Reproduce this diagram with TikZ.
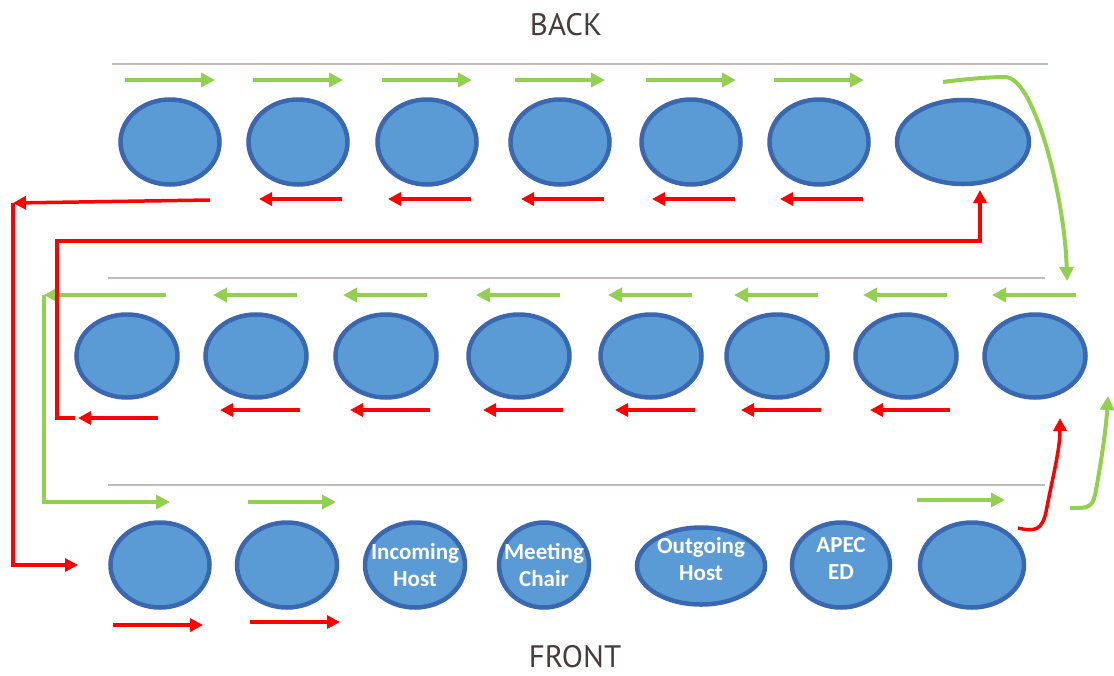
\documentclass[tikz,border=0pt]{standalone}
\usepackage{fontspec}
\setmainfont{Carlito}
\newfontfamily\sidefont{PT Sans}
\usepackage{xcolor}
\usetikzlibrary{shapes.geometric, arrows.meta, positioning}
\definecolor{seatblue}{HTML}{5B9BD5}
\definecolor{seatedge}{HTML}{3A68B0}
\definecolor{flowgreen}{HTML}{92D050}
\definecolor{flowred}{HTML}{FF0000}
\definecolor{rowgray}{HTML}{C4BABA}
\definecolor{sidetext}{HTML}{463C3C}

\begin{document}
\begin{tikzpicture}[
        x=1pt, y=-1pt,
        seat/.style={ellipse, draw=seatedge, fill=seatblue, line width=4.5pt, minimum width=99pt, minimum height=85pt, inner sep=0pt},
        seattext/.style={text=white, font=\bfseries\fontsize{23}{27}\selectfont, align=center},
        greenflow/.style={-{Triangle[length=14pt,width=14pt]}, draw=flowgreen, line width=4pt},
        redflow/.style={-{Triangle[length=13pt,width=13pt]}, draw=flowred, line width=3.5pt},
        rowline/.style={draw=rowgray, line width=1.5pt},
        sidelabel/.style={font=\sidefont\fontsize{31}{31}\selectfont, text=sidetext}
    ]
        \useasboundingbox (0,0) rectangle (1114,675);

        % Labels
        \node[sidelabel] (back) at (566,25) {BACK};
        \node[sidelabel] (front) at (575,657) {FRONT};

        % Row lines
        \draw[rowline] (112,64) -- (1048,64);
        \draw[rowline] (108,278) -- (1045,278);
        \draw[rowline] (108,485) -- (1045,485);

        % Back row
        \foreach \x [count=\i] in {170,298,427,560,691,819}
            \node[seat] (b\i) at (\x,142) {};
        \node[seat, minimum width=132pt, minimum height=84pt] (b7) at (963,142) {};

        % Middle row
        \foreach \x [count=\i] in {127,256,386,519,651,777,906,1035}
            \node[seat, minimum width=101pt, minimum height=83pt] (m\i) at (\x,356) {};

        % Front row
        \node[seat] (f1) at (160,565) {};
        \node[seat, minimum width=100pt] (f2) at (287,565) {};
        \node[seat, minimum width=100pt, label={[seattext]center:Incoming\\Host}] (f3) at (415,565) {};
        \node[seat, minimum width=90pt, label={[seattext]center:Meeting\\Chair}] (f4) at (544,565) {};
        \node[seat, minimum width=128pt, minimum height=77pt, label={[seattext, yshift=7pt]center:Outgoing\\Host}] (f5) at (701,566) {};
        \node[seat, minimum width=98pt, label={[seattext, yshift=7pt]center:APEC\\ED}] (f6) at (841,565) {};
        \node[seat, minimum width=104pt] (f7) at (972,565) {};

        % Back row flow
        \foreach \i in {1,...,6}
            \draw[greenflow] ([shift={(-45,-62)}]b\i.center) -- ++(90,0);
        \foreach \i in {2,...,6}
            \draw[redflow] ([shift={(44,57)}]b\i.center) -- ++(-83,0);
        \draw[greenflow] ([shift={(-20,-60)}]b7.center) .. controls (965,79) and (990,77) .. (1005,77)
            .. controls (1035,77) and (1065,200) .. ([shift={(32,-75)}]m8.center);

        % Red return to the front, outer left
        \coordinate (redA) at (13,203);
        \draw[redflow] ([shift={(40,58)}]b1.center) -- (redA);
        \draw[redflow] (redA) |- ([shift={(-82,0)}]f1.center);

        % Middle row flow
        \foreach \i in {2,...,8}
            \draw[greenflow] ([shift={(41,-61)}]m\i.center) -- ++(-84,0);
        \foreach \i in {2,...,7}
            \draw[redflow] ([shift={(44,54)}]m\i.center) -- ++(-80,0);
        \draw[redflow] ([shift={(31,62)}]m1.center) -- ++(-80,0);

        % Green to the front, inner left
        \coordinate (greenA) at (44,295);
        \draw[greenflow] ([shift={(39,-61)}]m1.center) -- (greenA);
        \draw[greenflow] (greenA) |- ([shift={(10,-63)}]f1.center);

        % Red up to the back row
        \coordinate (redC) at (57,418);
        \coordinate (redD) at (980,241);
        \draw[redflow] ([shift={(-52,62)}]m1.center) -- (redC) |- (redD) -- ([shift={(17,48)}]b7.center);

        % Front row flow
        \draw[greenflow] ([shift={(-39,-63)}]f2.center) -- ++(88,0);
        \draw[greenflow] ([shift={(-55,-65)}]f7.center) -- ++(88,0);
        \draw[redflow] ([shift={(-47,60)}]f1.center) -- ++(90,0);
        \draw[redflow] ([shift={(-37,57)}]f2.center) -- ++(90,0);

        % Right side, back up to the middle row
        \draw[redflow] ([shift={(46,-37)}]f7.center) .. controls (1035,532) and (1042,530) .. (1046,512)
            .. controls (1052,480) and (1060,450) .. ([shift={(25,62)}]m8.center);
        \draw[greenflow] ([shift={(98,-57)}]f7.center) .. controls (1085,508) and (1092,509) .. (1095,495)
            .. controls (1100,470) and (1106,430) .. ([shift={(73,40)}]m8.center);
    \end{tikzpicture}
\end{document}
